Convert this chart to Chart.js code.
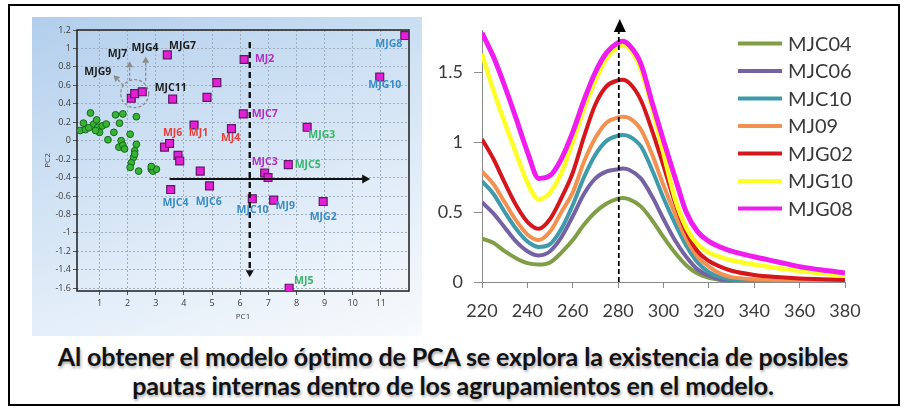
<!DOCTYPE html>
<html>
<head>
<meta charset="utf-8">
<script src="https://cdn.jsdelivr.net/npm/chart.js@4/dist/chart.umd.min.js"></script>
<style>
  html, body { margin: 0; padding: 0; background: #fff; }
  body { width: 906px; height: 412px; position: relative; overflow: hidden; font-family: Lato, sans-serif; }
  .frame { position: absolute; left: 8px; top: 4px; width: 888px; height: 398px; border: 2px solid #000; }
  .pca-panel {
    position: absolute; left: 32px; top: 17px; width: 390px; height: 319px;
    background: linear-gradient(160deg, #b2ceec 0%, #cde0f3 35%, #e5eff9 70%, #f8fafc 100%);
  }
  #pca { position: absolute; left: 32px; top: 17px; }
  #uv { position: absolute; left: 425px; top: 0; }
  .caption {
    position: absolute; left: 0; width: 906px; top: 342px; text-align: center;
    font: bold 25px Lato, sans-serif; line-height: 29px; color: #121212;
    letter-spacing: -0.1px;
    text-shadow: 1px 2px 3px rgba(0, 0, 0, 0.35);
  }
</style>
</head>
<body>
<div class="frame"></div>
<div class="pca-panel"></div>
<canvas id="pca" width="390" height="319"></canvas>
<canvas id="uv" width="470" height="335"></canvas>
<div class="caption">Al obtener el modelo óptimo de PCA se explora la existencia de posibles<br>pautas internas dentro de los agrupamientos en el modelo.</div>

<script>
// ---- PCA scores (PC1 / PC2) ----
const clusterPC1 = [0.68, 0.43, 0.31, 0.50, 0.62, 0.80, 0.90, 0.94, 1.00, 1.10, 1.24, 0.86, 1.30, 1.51, 1.57, 1.83, 1.71,
  2.31, 2.09, 1.77, 1.69, 1.83, 1.89, 2.31, 2.25, 2.21, 2.13, 2.09, 2.39, 2.84, 2.90, 3.02, 2.25, 2.84];
const clusterPC2 = [0.30, 0.19, 0.11, 0.12, 0.14, 0.18, 0.225, 0.145, 0.09, 0.16, 0.18, 0.11, 0.01, 0.09, 0.28, 0.29, 0.19,
  0.26, 0.07, 0.00, -0.07, -0.05, -0.09, -0.04, -0.11, -0.18, -0.24, -0.29, -0.33, -0.31, -0.33, -0.31, -0.145, -0.28];

const samplePC1 = [3.41, 6.14, 5.17, 4.82, 3.60, 2.13, 2.25, 2.52, 6.11, 4.36, 5.69, 8.38, 11.85, 10.96,
  3.31, 3.49, 3.79, 3.85, 4.58, 4.91, 3.53, 6.87, 6.99, 7.71, 6.43, 7.19, 8.95, 7.74];
const samplePC2 = [0.93, 0.88, 0.63, 0.47, 0.45, 0.46, 0.51, 0.53, 0.29, 0.17, 0.13, 0.145, 1.14, 0.69,
  -0.07, -0.03, -0.16, -0.22, -0.33, -0.49, -0.53, -0.35, -0.40, -0.26, -0.63, -0.645, -0.66, -1.60];

const pc1Ticks = [1, 2, 3, 4, 5, 6, 7, 8, 9, 10, 11];
const pc2Ticks = [1.2, 1, 0.8, 0.6, 0.4, 0.2, 0, -0.2, -0.4, -0.6, -0.8, -1, -1.2, -1.4, -1.6];

// sample names placed next to the scores
const sampleNames = ['MJG4', 'MJG7', 'MJ7', 'MJG9', 'MJC11', 'MJ2', 'MJC7', 'MJC3', 'MJ6', 'MJ1', 'MJ4',
  'MJG3', 'MJC5', 'MJ5', 'MJG8', 'MJG10', 'MJC4', 'MJC6', 'MJC10', 'MJ9', 'MJG2'];
const nameGroup = ['k', 'k', 'k', 'k', 'k', 'm', 'm', 'm', 'r', 'r', 'r',
  'g', 'g', 'g', 'b', 'b', 'b', 'b', 'b', 'b', 'b'];
const namePC1 = [2.62, 3.95, 1.64, 0.94, 3.53, 6.87, 6.87, 6.87, 3.60, 4.52, 5.66,
  8.90, 8.40, 8.26, 11.28, 11.14, 3.70, 4.88, 6.44, 7.60, 8.95];
const namePC2 = [1.00, 1.03, 0.94, 0.74, 0.57, 0.88, 0.29, -0.235, 0.08, 0.08, 0.03,
  0.06, -0.26, -1.52, 1.05, 0.60, -0.68, -0.66, -0.75, -0.71, -0.83];

// ---- UV spectra ----
const wavelengths = [220, 225, 230, 235, 240, 245, 250, 255, 260, 265, 270, 275, 280, 282, 285, 290,
  295, 300, 305, 310, 315, 320, 325, 330, 340, 350, 360, 370, 380];
const seriesNames = ['MJC04', 'MJC06', 'MJC10', 'MJ09', 'MJG02', 'MJG10', 'MJG08'];
const mjc04 = [0.31, 0.28, 0.22, 0.17, 0.135, 0.125, 0.14, 0.21, 0.30, 0.41, 0.50, 0.56, 0.595, 0.60, 0.59, 0.54,
  0.44, 0.32, 0.21, 0.12, 0.06, 0.03, 0.015, 0.008, 0.003, 0.001, 0, 0, 0];
const mjc06 = [0.57, 0.49, 0.39, 0.29, 0.22, 0.19, 0.22, 0.32, 0.47, 0.63, 0.74, 0.79, 0.805, 0.81, 0.80, 0.74,
  0.61, 0.45, 0.30, 0.18, 0.09, 0.045, 0.02, 0.01, 0.005, 0.002, 0, 0, 0];
const mjc10 = [0.72, 0.63, 0.50, 0.38, 0.29, 0.25, 0.27, 0.38, 0.55, 0.75, 0.91, 1.01, 1.045, 1.05, 1.04, 0.97,
  0.80, 0.60, 0.42, 0.26, 0.14, 0.07, 0.035, 0.02, 0.01, 0.005, 0.002, 0, 0];
const mj09 = [0.79, 0.70, 0.57, 0.44, 0.34, 0.30, 0.36, 0.50, 0.64, 0.86, 1.03, 1.14, 1.175, 1.18, 1.17, 1.09,
  0.91, 0.69, 0.49, 0.31, 0.18, 0.11, 0.06, 0.035, 0.02, 0.015, 0.01, 0.007, 0.005];
const mjg02 = [1.02, 0.88, 0.71, 0.55, 0.43, 0.38, 0.45, 0.60, 0.78, 1.04, 1.27, 1.40, 1.44, 1.445, 1.42, 1.30,
  1.08, 0.83, 0.57, 0.36, 0.22, 0.15, 0.11, 0.08, 0.05, 0.035, 0.025, 0.02, 0.015];
const mjg10 = [1.63, 1.37, 1.14, 0.92, 0.71, 0.59, 0.64, 0.78, 1.00, 1.24, 1.44, 1.60, 1.68, 1.69, 1.67, 1.52,
  1.24, 0.92, 0.60, 0.39, 0.27, 0.21, 0.18, 0.155, 0.125, 0.10, 0.08, 0.06, 0.045];
const mjg08 = [1.78, 1.61, 1.40, 1.17, 0.93, 0.74, 0.76, 0.88, 1.07, 1.30, 1.50, 1.64, 1.71, 1.72, 1.69, 1.56,
  1.28, 1.01, 0.75, 0.50, 0.36, 0.29, 0.25, 0.22, 0.18, 0.145, 0.11, 0.085, 0.065];
const uvTicksX = [220, 240, 260, 280, 300, 320, 340, 360, 380];
const uvTicksY = [0, 0.5, 1, 1.5];
const peakWavelength = 280.3;

const zip = (xs, ys) => xs.map((x, i) => ({ x, y: ys[i] }));

const groupColors = { k: '#1c1c1c', m: '#b22cc0', r: '#e6403c', g: '#38b56a', b: '#3a8cc6' };

function arrowHead(ctx, x, y, angle, len, half) {
  ctx.save();
  ctx.translate(x, y);
  ctx.rotate(angle);
  ctx.beginPath();
  ctx.moveTo(0, 0);
  ctx.lineTo(-len, -half);
  ctx.lineTo(-len, half);
  ctx.closePath();
  ctx.fill();
  ctx.restore();
}

// frame around the PCA plot area
const plotFrame = {
  id: 'plotFrame',
  beforeDatasetsDraw(chart) {
    const { ctx, chartArea: a } = chart;
    ctx.save();
    ctx.strokeStyle = '#2a2a2a';
    ctx.lineWidth = 1.6;
    ctx.strokeRect(a.left, a.top, a.right - a.left, a.bottom - a.top);
    ctx.restore();
  }
};

// names, grouping circle and arrows drawn over the scores
const pcaNotes = {
  id: 'pcaNotes',
  afterDatasetsDraw(chart) {
    const { ctx } = chart;
    const sx = chart.scales.x, sy = chart.scales.y;
    const X = v => sx.getPixelForValue(v), Y = v => sy.getPixelForValue(v);
    ctx.save();

    // dashed circle round the small group and the grey pointers
    ctx.strokeStyle = '#8c8c8c';
    ctx.fillStyle = '#8c8c8c';
    ctx.lineWidth = 1.3;
    ctx.setLineDash([3, 2]);
    ctx.beginPath();
    ctx.arc(X(2.25), Y(0.51), 14, 0, Math.PI * 2);
    ctx.stroke();
    const pointers = [[2.07, 0.65, 2.07, 0.86], [2.64, 0.65, 2.64, 0.91], [1.85, 0.60, 1.50, 0.71]];
    pointers.forEach(([x1, y1, x2, y2]) => {
      ctx.setLineDash([3, 2]);
      ctx.beginPath();
      ctx.moveTo(X(x1), Y(y1));
      ctx.lineTo(X(x2), Y(y2));
      ctx.stroke();
      ctx.setLineDash([]);
      arrowHead(ctx, X(x2), Y(y2), Math.atan2(Y(y2) - Y(y1), X(x2) - X(x1)), 6, 3.5);
    });

    // horizontal solid arrow
    ctx.setLineDash([]);
    ctx.strokeStyle = '#111';
    ctx.fillStyle = '#111';
    ctx.lineWidth = 2;
    ctx.beginPath();
    ctx.moveTo(X(3.49), Y(-0.415));
    ctx.lineTo(X(10.5), Y(-0.415));
    ctx.stroke();
    arrowHead(ctx, X(10.62), Y(-0.415), 0, 8, 4.5);

    // vertical dashed arrow
    ctx.lineWidth = 2.4;
    ctx.setLineDash([6, 4]);
    ctx.beginPath();
    ctx.moveTo(X(6.34), Y(1.07));
    ctx.lineTo(X(6.34), Y(-1.40));
    ctx.stroke();
    ctx.setLineDash([]);
    arrowHead(ctx, X(6.34), Y(-1.48), Math.PI / 2, 7, 4);

    // sample names
    ctx.font = 'bold 10.5px "Open Sans", sans-serif';
    ctx.textAlign = 'center';
    ctx.textBaseline = 'middle';
    sampleNames.forEach((name, i) => {
      ctx.fillStyle = groupColors[nameGroup[i]];
      ctx.fillText(name, X(namePC1[i]), Y(namePC2[i]));
    });
    ctx.restore();
  }
};

new Chart(document.getElementById('pca'), {
  type: 'scatter',
  data: {
    datasets: [
      {
        label: 'grupo A',
        data: zip(clusterPC1, clusterPC2),
        pointStyle: 'circle',
        pointRadius: 3.4,
        backgroundColor: '#36b436',
        borderColor: '#18661b',
        borderWidth: 1
      },
      {
        label: 'grupo B',
        data: zip(samplePC1, samplePC2),
        pointStyle: 'rect',
        pointRadius: 5.6,
        backgroundColor: '#e41fd6',
        borderColor: '#5e1a66',
        borderWidth: 1.2
      }
    ]
  },
  options: {
    responsive: false,
    animation: false,
    layout: { padding: { top: 13, right: 13, left: 0, bottom: 0 } },
    plugins: { legend: { display: false }, tooltip: { enabled: false } },
    scales: {
      x: {
        type: 'linear', min: 0.2, max: 12,
        afterBuildTicks: s => { s.ticks = pc1Ticks.map(v => ({ value: v })); },
        afterFit: s => { s.height = 45; s.paddingLeft = 0; s.paddingRight = 0; },
        grid: { color: '#9eaebf', tickColor: '#555', tickLength: 4, lineWidth: 1 },
        border: { display: false, dash: [2, 2] },
        ticks: { color: '#3c3c3c', font: { family: '"Open Sans"', size: 9 }, padding: 3, callback: v => String(v) },
        title: { display: true, text: 'PC1', color: '#444', font: { family: '"Open Sans"', size: 8 }, padding: { top: 0, bottom: 14 } }
      },
      y: {
        type: 'linear', min: -1.63, max: 1.2,
        afterBuildTicks: s => { s.ticks = pc2Ticks.map(v => ({ value: v })); },
        afterFit: s => { s.width = 45; s.paddingTop = 0; s.paddingBottom = 0; },
        grid: { color: '#9eaebf', tickColor: '#555', tickLength: 4, lineWidth: 1 },
        border: { display: false, dash: [2, 2] },
        ticks: { color: '#3c3c3c', font: { family: '"Open Sans"', size: 9 }, padding: 2,
          callback: v => String(Math.round(v * 10) / 10) },
        title: { display: true, text: 'PC2', color: '#444', font: { family: '"Open Sans"', size: 8 }, padding: { top: 11, bottom: 0 } }
      }
    }
  },
  plugins: [plotFrame, pcaNotes]
});

// legend in the upper right corner of the spectra
const uvLegend = {
  id: 'uvLegend',
  afterDraw(chart) {
    const { ctx } = chart;
    ctx.save();
    ctx.font = '20px Lato, sans-serif';
    ctx.textBaseline = 'middle';
    chart.data.datasets.forEach((ds, i) => {
      const y = 43.5 + i * 27.5;
      ctx.strokeStyle = ds.borderColor;
      ctx.lineWidth = 4;
      ctx.beginPath();
      ctx.moveTo(313, y);
      ctx.lineTo(357, y);
      ctx.stroke();
      ctx.fillStyle = '#3a3a3a';
      ctx.fillText(ds.label, 363, y + 1);
    });
    ctx.restore();
  }
};

// dashed marker with arrow at the absorption maximum
const peakMarker = {
  id: 'peakMarker',
  afterDatasetsDraw(chart) {
    const { ctx } = chart;
    const x = chart.scales.x.getPixelForValue(peakWavelength);
    const y0 = chart.scales.y.getPixelForValue(0);
    ctx.save();
    ctx.strokeStyle = '#000';
    ctx.fillStyle = '#000';
    ctx.lineWidth = 1.8;
    ctx.setLineDash([5, 3]);
    ctx.beginPath();
    ctx.moveTo(x, y0);
    ctx.lineTo(x, 32);
    ctx.stroke();
    ctx.setLineDash([]);
    ctx.beginPath();
    ctx.moveTo(x + 1, 19);
    ctx.lineTo(x - 5, 32);
    ctx.lineTo(x + 7, 32);
    ctx.closePath();
    ctx.fill();
    ctx.restore();
  }
};

const uvValues = [mjc04, mjc06, mjc10, mj09, mjg02, mjg10, mjg08];
const uvColors = ['#7f9e45', '#7462a3', '#3f9bab', '#f29150', '#d3171c', '#ffff26', '#f01cf0'];
const uvWidths = [4, 4, 4, 4, 4, 4.5, 5];

new Chart(document.getElementById('uv'), {
  type: 'line',
  data: {
    datasets: uvValues.map((vals, i) => ({
      label: seriesNames[i],
      data: zip(wavelengths, vals),
      borderColor: uvColors[i],
      borderWidth: uvWidths[i],
      pointRadius: 0,
      fill: false,
      cubicInterpolationMode: 'monotone',
      order: uvValues.length - i
    }))
  },
  options: {
    responsive: false,
    animation: false,
    layout: { padding: { top: 30, right: 50, left: 0, bottom: 0 } },
    plugins: { legend: { display: false }, tooltip: { enabled: false } },
    scales: {
      x: {
        type: 'linear', min: 220, max: 380,
        afterBuildTicks: s => { s.ticks = uvTicksX.map(v => ({ value: v })); },
        afterFit: s => { s.height = 53; s.paddingLeft = 0; s.paddingRight = 0; },
        grid: { drawOnChartArea: false, tickColor: '#8a8a8a', tickLength: 6 },
        border: { color: '#8a8a8a', width: 1 },
        ticks: { color: '#3a3a3a', font: { family: 'Lato', size: 18 }, padding: 12 }
      },
      y: {
        type: 'linear', min: 0, max: 1.8,
        afterBuildTicks: s => { s.ticks = uvTicksY.map(v => ({ value: v })); },
        afterFit: s => { s.width = 57; s.paddingTop = 0; s.paddingBottom = 0; },
        grid: { drawOnChartArea: false, tickColor: '#8a8a8a', tickLength: 8 },
        border: { color: '#8a8a8a', width: 1 },
        ticks: { color: '#3a3a3a', font: { family: 'Lato', size: 18 }, padding: 11,
          callback: v => String(v) }
      }
    }
  },
  plugins: [peakMarker, uvLegend]
});
</script>
</body>
</html>
